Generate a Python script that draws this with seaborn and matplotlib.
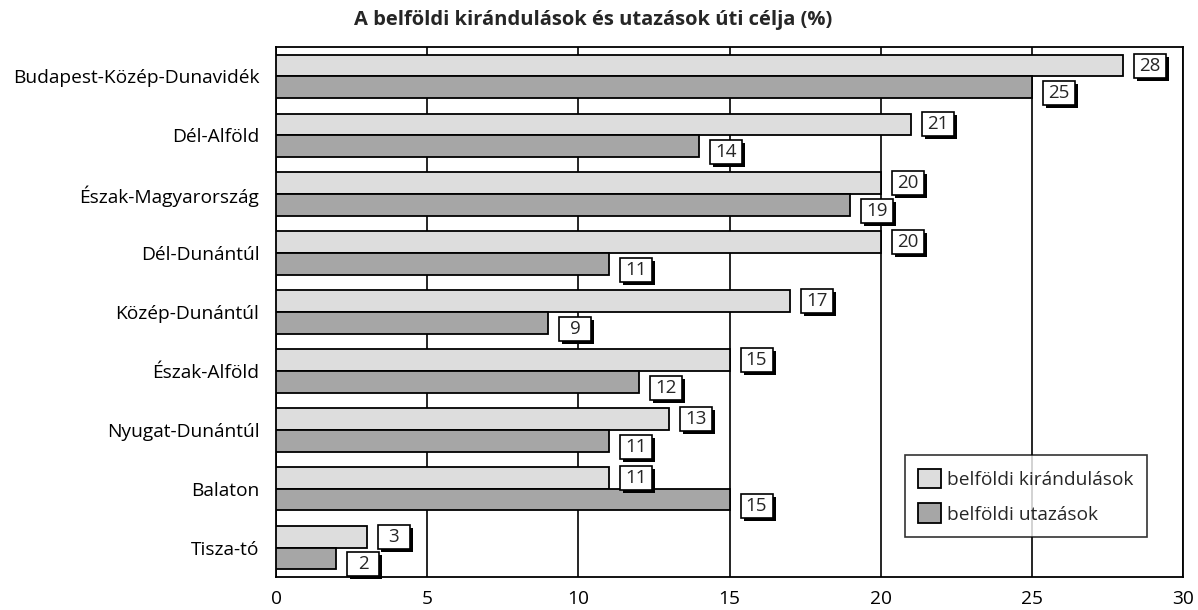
import matplotlib
matplotlib.use("Agg")
import matplotlib.pyplot as plt
import matplotlib.transforms as mtransforms
from matplotlib.patches import Rectangle
import seaborn as sns
import pandas as pd

categories = ["Budapest-Közép-Dunavidék", "Dél-Alföld", "Észak-Magyarország",
              "Dél-Dunántúl", "Közép-Dunántúl", "Észak-Alföld",
              "Nyugat-Dunántúl", "Balaton", "Tisza-tó"]
kirandulasok = [28, 21, 20, 20, 17, 15, 13, 11, 3]
utazasok = [25, 14, 19, 11, 9, 12, 11, 15, 2]
series_names = ["belföldi kirándulások", "belföldi utazások"]
title = "A belföldi kirándulások és utazások úti célja (%)"

df = pd.DataFrame({
    "region": categories * 2,
    "value": kirandulasok + utazasok,
    "series": [series_names[0]] * len(categories) + [series_names[1]] * len(categories),
})

sns.set_style("white")
plt.rcParams["font.family"] = ["Open Sans", "DejaVu Sans"]

DPI = 100
fig = plt.figure(figsize=(11.98, 6.10), dpi=DPI)
ax = fig.add_axes([276/1198, 1-577/610, (1183-276)/1198, (577-47)/610])

palette = {series_names[0]: "#dddddd", series_names[1]: "#a6a6a6"}
sns.barplot(data=df, y="region", x="value", hue="series", palette=palette,
            orient="h", width=0.74, edgecolor="black", linewidth=1.3,
            saturation=1, ax=ax, zorder=3)

ax.set_xlim(0, 30)
ax.set_xticks([0, 5, 10, 15, 20, 25, 30])
ax.xaxis.grid(True, color="black", linewidth=1.2, zorder=0)
ax.yaxis.grid(False)
ax.set_axisbelow(True)
for s in ax.spines.values():
    s.set_color("black")
    s.set_linewidth(1.3)
ax.tick_params(axis="both", length=0, labelsize=13.8, colors="black")
ax.tick_params(axis="x", pad=9)
ax.tick_params(axis="y", pad=12)
ax.set_xlabel("")
ax.set_ylabel("")
fig.text(0.495, 1 - 20/610, title, fontsize=14.5, fontweight="bold",
         ha="center", va="center")

# value boxes (fixed size, in pixels)
px = 72.0 / DPI  # points per pixel
box_w, box_h, gap, sh = 32, 24, 11, 3
yoff = [0, -6]
for ci, cont in enumerate(ax.containers):
    for bar in cont:
        w = bar.get_width()
        yc = bar.get_y() + bar.get_height() / 2
        tr = (mtransforms.Affine2D().scale(DPI / 72.0) +
              mtransforms.ScaledTranslation(w, yc, ax.transData))
        x0 = gap * px
        y0 = (yoff[ci] - box_h / 2) * px
        shadow = Rectangle((x0 + sh * px, y0 - sh * px), box_w * px, box_h * px,
                           transform=tr, fc="black", ec="none", zorder=6, clip_on=False)
        box = Rectangle((x0, y0), box_w * px, box_h * px, transform=tr,
                        fc="white", ec="black", lw=1.2, zorder=7, clip_on=False)
        ax.add_patch(shadow)
        ax.add_patch(box)
        ax.text(x0 + box_w * px / 2, y0 + box_h * px / 2, f"{int(round(w))}",
                transform=tr, ha="center", va="center", fontsize=13.5,
                zorder=8, clip_on=False)

leg = ax.legend(loc="lower right", bbox_to_anchor=((1147-276)/907, (577-537)/530),
                frameon=True, fontsize=13.8, fancybox=False, edgecolor="black",
                handlelength=1.2, handleheight=1.2, borderpad=0.7, labelspacing=0.75,
                handletextpad=0.3, borderaxespad=0)
leg.get_frame().set_linewidth(1.2)

fig.savefig("out.png", dpi=DPI)
